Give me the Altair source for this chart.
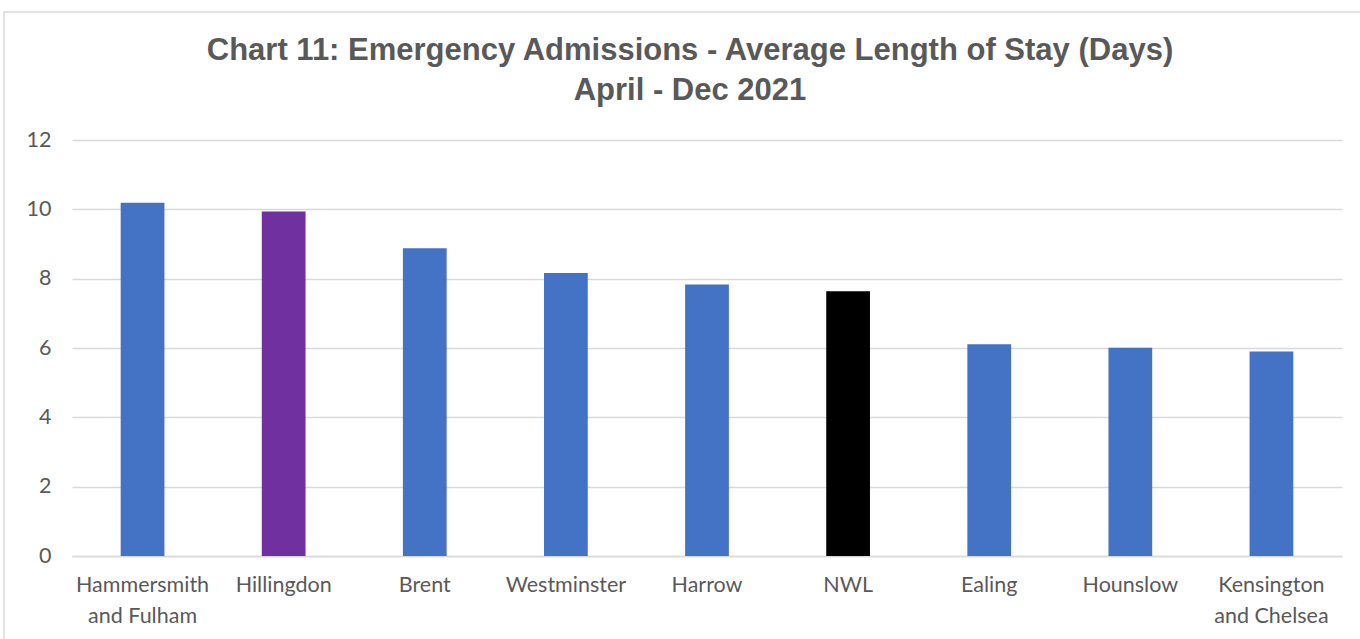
import altair as alt
import pandas as pd

categories = ["Hammersmith|and Fulham", "Hillingdon", "Brent", "Westminster", "Harrow",
              "NWL", "Ealing", "Hounslow", "Kensington|and Chelsea"]
values = [10.19, 9.94, 8.88, 8.16, 7.83, 7.64, 6.11, 6.01, 5.90]
colors = ["#4472C4", "#7030A0", "#4472C4", "#4472C4", "#4472C4",
          "#000000", "#4472C4", "#4472C4", "#4472C4"]
title_lines = ["Chart 11: Emergency Admissions - Average Length of Stay (Days)", "April - Dec 2021"]

df = pd.DataFrame({"area": categories, "los": values, "color": colors})

W, H = 1270, 416

border = alt.Chart(pd.DataFrame({"a": [0]})).mark_rect(
    filled=False, stroke="#d9d9d9", strokeWidth=1.5
).encode(
    x=alt.value(-68), x2=alt.value(1300), y=alt.value(-128), y2=alt.value(520)
)

title_style = dict(font="Liberation Sans", fontSize=31, fontWeight="bold", color="#595959",
                   align="center", baseline="alphabetic")
t1 = alt.Chart(pd.DataFrame({"t": [title_lines[0]]})).mark_text(**title_style).encode(
    text="t:N", x=alt.value(618), y=alt.value(-80))
t2 = alt.Chart(pd.DataFrame({"t": [title_lines[1]]})).mark_text(**title_style).encode(
    text="t:N", x=alt.value(618), y=alt.value(-40))

bars = alt.Chart(df).mark_bar().encode(
    x=alt.X("area:N", sort=categories, title=None,
            scale=alt.Scale(paddingInner=0.69, paddingOuter=0.345),
            axis=alt.Axis(labelAngle=0, labelExpr="split(datum.label, '|')",
                          labelFont="Lato", labelFontSize=21.5, labelColor="#595959",
                          labelPadding=18, labelLineHeight=31, ticks=False,
                          domain=True, domainColor="#d9d9d9", domainWidth=1.5,
                          labelBaseline="top")),
    y=alt.Y("los:Q", title=None,
            scale=alt.Scale(domain=[0, 12], nice=False),
            axis=alt.Axis(values=[0, 2, 4, 6, 8, 10, 12], grid=True, gridColor="#d9d9d9",
                          gridWidth=1.5, domain=False, ticks=False,
                          labelFont="Lato", labelFontSize=21.5, labelColor="#595959",
                          labelPadding=21)),
    color=alt.Color("color:N", scale=None, legend=None),
)

chart = alt.layer(border, t1, t2, bars).properties(
    width=W, height=H,
    autosize=alt.AutoSizeParams(type="none"),
    padding={"left": 72, "top": 140, "right": 18, "bottom": 83},
    background="white",
).configure_view(stroke=None)

chart.save("out.html", embed_options={"renderer": "svg", "actions": False})
